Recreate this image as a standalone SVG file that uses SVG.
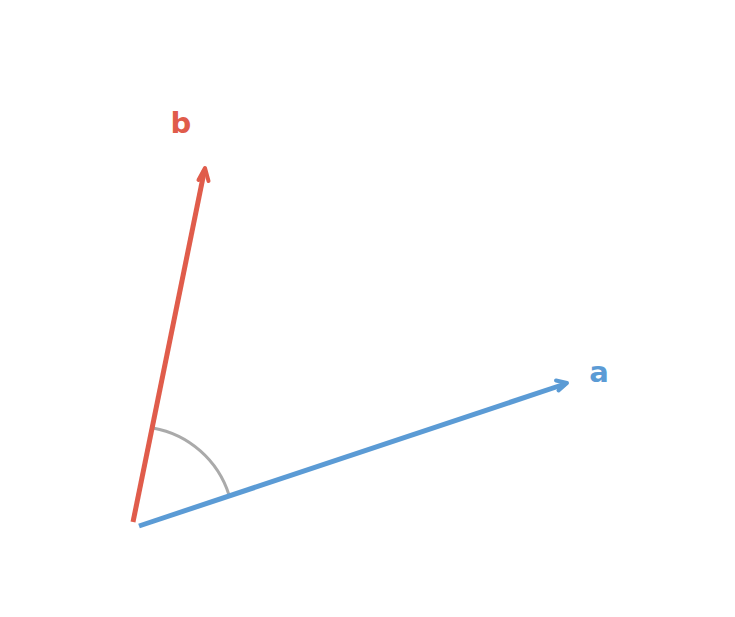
<svg xmlns="http://www.w3.org/2000/svg" width="735" height="617" viewBox="0 0 735 617">
<style>
.lbl{font-family:"DejaVu Sans",sans-serif;font-weight:bold;font-size:29px;text-anchor:middle}
</style>
<rect width="735" height="617" fill="#ffffff"/>
<g id="angle">
<path d="M153,428 A98,98 0 0 1 229,495" fill="none" stroke="#aaaaaa" stroke-width="3"/>
</g>
<g id="connectors">
<g id="vector-b">
<line x1="133" y1="522" x2="204.5" y2="170" stroke="#e05c4b" stroke-width="5"/>
<polyline points="198.5,180 205,168 208.5,181" fill="none" stroke="#e05c4b" stroke-width="4" stroke-linecap="round" stroke-linejoin="round"/>
</g>
<g id="vector-a">
<line x1="139" y1="526" x2="565" y2="384" stroke="#5b9bd5" stroke-width="5"/>
<polyline points="556,380.5 567,383 558.5,390.5" fill="none" stroke="#5b9bd5" stroke-width="4" stroke-linecap="round" stroke-linejoin="round"/>
</g>
</g>
<g id="label-b"><text class="lbl" x="181" y="133" fill="#e05c4b">b</text></g>
<g id="label-a"><text class="lbl" x="599" y="382" fill="#5b9bd5">a</text></g>
</svg>
